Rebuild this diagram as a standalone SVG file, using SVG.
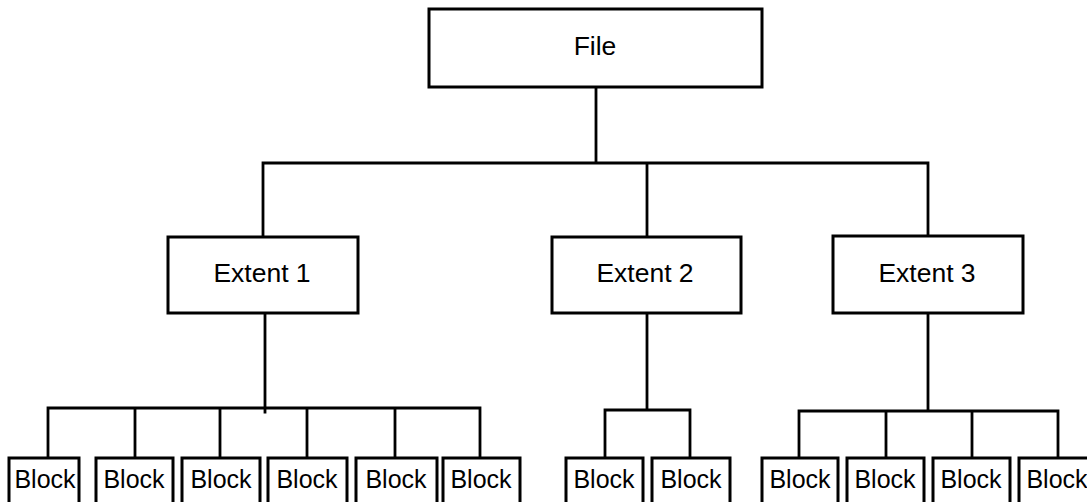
<svg xmlns="http://www.w3.org/2000/svg" width="1087" height="502" viewBox="0 0 1087 502">
  <style>
    .box { fill: #fff; stroke: #000; stroke-width: 3; }
    .wire { fill: none; stroke: #000; stroke-width: 2.8; stroke-linecap: square; stroke-linejoin: miter; }
    .lbl { font-family: "Liberation Sans", Arial, sans-serif; fill: #000; text-anchor: middle; }
    .big { font-size: 26.5px; }
    .small { font-size: 25px; }
  </style>
  <rect width="1087" height="502" fill="#fff"/>

  <!-- connectors -->
  <g id="connectors" class="wire">
    <path d="M596 87 V163 M263 237 V163 H928 V236 M647 163 V237"/>
    <!-- extent 1 fan-out -->
    <path d="M265 313 V412 M48 458 V408 H480 V458 M135 408 V458 M220 408 V458 M307 408 V458 M395 408 V458"/>
    <!-- extent 2 fan-out -->
    <path d="M647 313 V410 M605 458 V410 H690 V458"/>
    <!-- extent 3 fan-out -->
    <path d="M928 313 V411 M799 458 V411 H1058 V458 M886 411 V458 M972 411 V458"/>
  </g>

  <g id="file">
    <rect class="box" x="429" y="9" width="333" height="78"/>
    <text class="lbl big" x="595" y="55">File</text>
  </g>

  <g id="extent1">
    <rect class="box" x="168" y="237" width="190" height="76"/>
    <text class="lbl big" x="262" y="282">Extent 1</text>
  </g>
  <g id="extent2">
    <rect class="box" x="552" y="237" width="189" height="76"/>
    <text class="lbl big" x="645" y="282">Extent 2</text>
  </g>
  <g id="extent3">
    <rect class="box" x="833" y="236" width="190" height="77"/>
    <text class="lbl big" x="927" y="282">Extent 3</text>
  </g>

  <!-- blocks of extent 1 -->
  <g id="e1b1"><rect class="box" x="9" y="458" width="70" height="60"/><text class="lbl small" x="45" y="488">Block</text></g>
  <g id="e1b2"><rect class="box" x="96" y="458" width="77" height="60"/><text class="lbl small" x="134" y="488">Block</text></g>
  <g id="e1b3"><rect class="box" x="182" y="458" width="78" height="60"/><text class="lbl small" x="221" y="488">Block</text></g>
  <g id="e1b4"><rect class="box" x="268" y="458" width="79" height="60"/><text class="lbl small" x="307" y="488">Block</text></g>
  <g id="e1b5"><rect class="box" x="356" y="458" width="81" height="60"/><text class="lbl small" x="396" y="488">Block</text></g>
  <g id="e1b6"><rect class="box" x="443" y="458" width="77" height="60"/><text class="lbl small" x="481" y="488">Block</text></g>

  <!-- blocks of extent 2 -->
  <g id="e2b1"><rect class="box" x="566" y="458" width="77" height="60"/><text class="lbl small" x="604" y="488">Block</text></g>
  <g id="e2b2"><rect class="box" x="652" y="458" width="78" height="60"/><text class="lbl small" x="691" y="488">Block</text></g>

  <!-- blocks of extent 3 -->
  <g id="e3b1"><rect class="box" x="762" y="458" width="76" height="60"/><text class="lbl small" x="800" y="488">Block</text></g>
  <g id="e3b2"><rect class="box" x="847" y="458" width="77" height="60"/><text class="lbl small" x="885" y="488">Block</text></g>
  <g id="e3b3"><rect class="box" x="933" y="458" width="77" height="60"/><text class="lbl small" x="971" y="488">Block</text></g>
  <g id="e3b4"><rect class="box" x="1019" y="458" width="77" height="60"/><text class="lbl small" x="1057" y="488">Block</text></g>
</svg>
